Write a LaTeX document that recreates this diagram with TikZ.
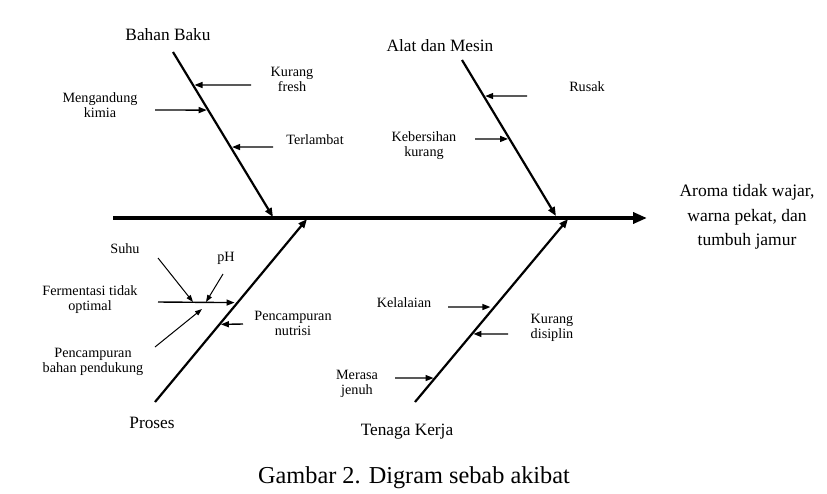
\documentclass[tikz,border=0pt]{standalone}
\usepackage{fontspec}
\setmainfont{Liberation Serif}
\usetikzlibrary{arrows.meta, positioning, calc}
\tikzset{
  spine/.style={line width=4.5pt, -{Triangle[length=14pt,width=11pt]}},
  bone/.style={line width=2.2pt, -{Triangle[length=9pt,width=7pt]}},
  cause/.style={line width=1.4pt, -{Triangle[length=8pt,width=6pt]}},
  subcause/.style={line width=1pt, -{Triangle[length=7pt,width=5pt]}},
  head/.style={font=\fontsize{17.3}{21}\selectfont, inner sep=0pt},
  lbl/.style={font=\fontsize{14.2}{15}\selectfont, align=center, inner sep=0pt},
}

\begin{document}
\begin{tikzpicture}[x=1pt, y=-1pt]
  \useasboundingbox (0,0) rectangle (827,493);
  % spine and effect
  \coordinate (tail) at (113,218);
  \coordinate (tip)  at (647,218);
  \draw[spine] (tail) -- (tip);
  \node (effect) [head, align=center, font=\fontsize{17.5}{24.5}\selectfont] at (747,217)
    {Aroma tidak wajar,\\warna pekat, dan\\tumbuh jamur};

  % main bones
  \node (bahan)  [head] at (168,35)  {Bahan Baku};
  \node (alat)   [head] at (440,46)  {Alat dan Mesin};
  \node (proses) [head] at (152,423) {Proses};
  \node (tenaga) [head] at (407,432) {Tenaga Kerja};
  \coordinate (bbtop) at (173,52);  \coordinate (bbend) at (273,217);
  \coordinate (amtop) at (462,60);  \coordinate (amend) at (556,216);
  \coordinate (prbot) at (155,402); \coordinate (prend) at (307,219);
  \coordinate (tkbot) at (415,402); \coordinate (tkend) at (568,219);
  \draw[bone] (bbtop) -- (bbend);
  \draw[bone] (amtop) -- (amend);
  \draw[bone] (prbot) -- (prend);
  \draw[bone] (tkbot) -- (tkend);

  % Bahan Baku
  \node (fresh) [lbl] at (292,79)  {Kurang\\fresh};
  \node (kimia) [lbl] at (100,105) {Mengandung\\kimia};
  \node (telat) [lbl] at (315,140) {Terlambat};
  \coordinate (fresh0) at (251,85);  \coordinate (fresh1) at ($(bbtop)!0.2!(bbend)$);
  \coordinate (kimia0) at (155,110); \coordinate (kimia1) at ($(bbtop)!0.352!(bbend)$);
  \coordinate (telat0) at (273,147); \coordinate (telat1) at ($(bbtop)!0.576!(bbend)$);
  \draw[cause, shorten >=1.5pt] (fresh0) -- (fresh1);
  \draw[cause, shorten >=1.5pt] (kimia0) -- (kimia1);
  \draw[cause, shorten >=1.5pt] (telat0) -- (telat1);

  % Alat dan Mesin
  \node (rusak)  [lbl] at (587,87)  {Rusak};
  \node (bersih) [lbl] at (424,146) {Kebersihan\\kurang};
  \coordinate (rusak0)  at (527,96);  \coordinate (rusak1)  at ($(amtop)!0.231!(amend)$);
  \coordinate (bersih0) at (475,139); \coordinate (bersih1) at ($(amtop)!0.506!(amend)$);
  \draw[cause, shorten >=1.5pt] (rusak0) -- (rusak1);
  \draw[cause, shorten >=1.5pt] (bersih0) -- (bersih1);

  % Proses
  \node (suhu)    [lbl] at (125,249) {Suhu};
  \node (ph)      [lbl] at (226,258) {pH};
  \node (ferm)    [lbl] at (90,300)  {Fermentasi tidak\\optimal};
  \node (dukung)  [lbl] at (93,362)  {Pencampuran\\bahan pendukung};
  \node (nutrisi) [lbl] at (293,323) {Pencampuran\\nutrisi};
  \coordinate (ferm0) at (158,302); \coordinate (ferm1) at ($(prbot)!0.543!(prend)$);
  \coordinate (nutr0) at (243,324); \coordinate (nutr1) at ($(prbot)!0.424!(prend)$);
  \draw[cause, shorten >=3pt] (ferm0) -- (ferm1);
  \draw[cause, shorten >=1.5pt] (nutr0) -- (nutr1);
  \coordinate (suhu0) at (158,258);   \coordinate (suhu1) at (193,302);
  \coordinate (ph0)   at (223,274);   \coordinate (ph1)   at (206,302);
  \coordinate (duk0)  at (155,347);   \coordinate (duk1)  at (202,309);
  \draw[subcause] (suhu0) -- (suhu1);
  \draw[subcause] (ph0) -- (ph1);
  \draw[subcause] (duk0) -- (duk1);

  % Tenaga Kerja
  \node (lalai)    [lbl] at (404,303) {Kelalaian};
  \node (disiplin) [lbl] at (552,328) {Kurang\\disiplin};
  \node (jenuh)    [lbl] at (357,384) {Merasa\\jenuh};
  \coordinate (lalai0) at (448,307); \coordinate (lalai1) at ($(tkbot)!0.519!(tkend)$);
  \coordinate (disi0)  at (508,334); \coordinate (disi1)  at ($(tkbot)!0.372!(tkend)$);
  \coordinate (jenuh0) at (395,378); \coordinate (jenuh1) at ($(tkbot)!0.131!(tkend)$);
  \draw[cause, shorten >=4pt] (lalai0) -- (lalai1);
  \draw[cause, shorten >=1.5pt] (disi0) -- (disi1);
  \draw[cause, shorten >=1.5pt] (jenuh0) -- (jenuh1);

  % caption
  \node (caption) [font=\fontsize{24.3}{27}\selectfont, inner sep=0pt] at (414,478)
    {Gambar 2. Digram sebab akibat};
\end{tikzpicture}
\end{document}
